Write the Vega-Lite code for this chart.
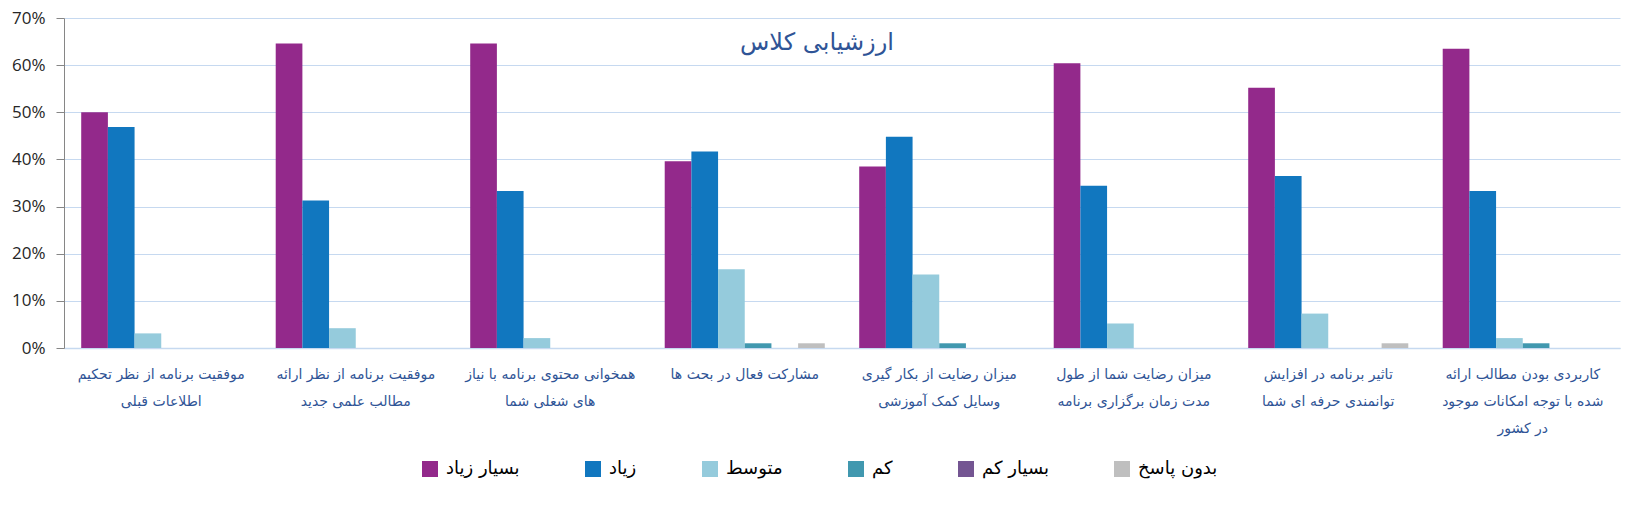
{
  "$schema": "https://vega.github.io/schema/vega-lite/v6.json",
  "width": 1556,
  "height": 330,
  "autosize": {"type": "none"},
  "padding": {"left": 64, "top": 18, "right": 27, "bottom": 164},
  "background": "white",
  "title": {
    "text": "ارزشیابی کلاس",
    "anchor": "middle",
    "frame": "group",
    "offset": -46,
    "dx": -25,
    "font": "DejaVu Sans",
    "fontSize": 24,
    "fontWeight": "normal",
    "color": "#2F5496"
  },
  "data": {
    "values": [
      {"criterion": "موفقیت برنامه از نظر تحکیم|اطلاعات قبلی", "response": "بسیار زیاد", "percent": 0.5},
      {"criterion": "موفقیت برنامه از نظر تحکیم|اطلاعات قبلی", "response": "زیاد", "percent": 0.469},
      {"criterion": "موفقیت برنامه از نظر تحکیم|اطلاعات قبلی", "response": "متوسط", "percent": 0.031},
      {"criterion": "موفقیت برنامه از نظر تحکیم|اطلاعات قبلی", "response": "کم", "percent": 0},
      {"criterion": "موفقیت برنامه از نظر تحکیم|اطلاعات قبلی", "response": "بسیار کم", "percent": 0},
      {"criterion": "موفقیت برنامه از نظر تحکیم|اطلاعات قبلی", "response": "بدون پاسخ", "percent": 0},
      {"criterion": "موفقیت برنامه از نظر ارائه|مطالب علمی جدید", "response": "بسیار زیاد", "percent": 0.646},
      {"criterion": "موفقیت برنامه از نظر ارائه|مطالب علمی جدید", "response": "زیاد", "percent": 0.313},
      {"criterion": "موفقیت برنامه از نظر ارائه|مطالب علمی جدید", "response": "متوسط", "percent": 0.042},
      {"criterion": "موفقیت برنامه از نظر ارائه|مطالب علمی جدید", "response": "کم", "percent": 0},
      {"criterion": "موفقیت برنامه از نظر ارائه|مطالب علمی جدید", "response": "بسیار کم", "percent": 0},
      {"criterion": "موفقیت برنامه از نظر ارائه|مطالب علمی جدید", "response": "بدون پاسخ", "percent": 0},
      {"criterion": "همخوانی محتوی برنامه با نیاز|های شغلی شما", "response": "بسیار زیاد", "percent": 0.646},
      {"criterion": "همخوانی محتوی برنامه با نیاز|های شغلی شما", "response": "زیاد", "percent": 0.333},
      {"criterion": "همخوانی محتوی برنامه با نیاز|های شغلی شما", "response": "متوسط", "percent": 0.021},
      {"criterion": "همخوانی محتوی برنامه با نیاز|های شغلی شما", "response": "کم", "percent": 0},
      {"criterion": "همخوانی محتوی برنامه با نیاز|های شغلی شما", "response": "بسیار کم", "percent": 0},
      {"criterion": "همخوانی محتوی برنامه با نیاز|های شغلی شما", "response": "بدون پاسخ", "percent": 0},
      {"criterion": "مشارکت فعال در بحث ها", "response": "بسیار زیاد", "percent": 0.396},
      {"criterion": "مشارکت فعال در بحث ها", "response": "زیاد", "percent": 0.417},
      {"criterion": "مشارکت فعال در بحث ها", "response": "متوسط", "percent": 0.167},
      {"criterion": "مشارکت فعال در بحث ها", "response": "کم", "percent": 0.01},
      {"criterion": "مشارکت فعال در بحث ها", "response": "بسیار کم", "percent": 0},
      {"criterion": "مشارکت فعال در بحث ها", "response": "بدون پاسخ", "percent": 0.01},
      {"criterion": "میزان رضایت از بکار گیری|وسایل کمک آموزشی", "response": "بسیار زیاد", "percent": 0.385},
      {"criterion": "میزان رضایت از بکار گیری|وسایل کمک آموزشی", "response": "زیاد", "percent": 0.448},
      {"criterion": "میزان رضایت از بکار گیری|وسایل کمک آموزشی", "response": "متوسط", "percent": 0.156},
      {"criterion": "میزان رضایت از بکار گیری|وسایل کمک آموزشی", "response": "کم", "percent": 0.01},
      {"criterion": "میزان رضایت از بکار گیری|وسایل کمک آموزشی", "response": "بسیار کم", "percent": 0},
      {"criterion": "میزان رضایت از بکار گیری|وسایل کمک آموزشی", "response": "بدون پاسخ", "percent": 0},
      {"criterion": "میزان رضایت شما از طول|مدت زمان برگزاری برنامه", "response": "بسیار زیاد", "percent": 0.604},
      {"criterion": "میزان رضایت شما از طول|مدت زمان برگزاری برنامه", "response": "زیاد", "percent": 0.344},
      {"criterion": "میزان رضایت شما از طول|مدت زمان برگزاری برنامه", "response": "متوسط", "percent": 0.052},
      {"criterion": "میزان رضایت شما از طول|مدت زمان برگزاری برنامه", "response": "کم", "percent": 0},
      {"criterion": "میزان رضایت شما از طول|مدت زمان برگزاری برنامه", "response": "بسیار کم", "percent": 0},
      {"criterion": "میزان رضایت شما از طول|مدت زمان برگزاری برنامه", "response": "بدون پاسخ", "percent": 0},
      {"criterion": "تاثیر برنامه در افزایش|توانمندی حرفه ای شما", "response": "بسیار زیاد", "percent": 0.552},
      {"criterion": "تاثیر برنامه در افزایش|توانمندی حرفه ای شما", "response": "زیاد", "percent": 0.365},
      {"criterion": "تاثیر برنامه در افزایش|توانمندی حرفه ای شما", "response": "متوسط", "percent": 0.073},
      {"criterion": "تاثیر برنامه در افزایش|توانمندی حرفه ای شما", "response": "کم", "percent": 0},
      {"criterion": "تاثیر برنامه در افزایش|توانمندی حرفه ای شما", "response": "بسیار کم", "percent": 0},
      {"criterion": "تاثیر برنامه در افزایش|توانمندی حرفه ای شما", "response": "بدون پاسخ", "percent": 0.01},
      {"criterion": "کاربردی بودن مطالب ارائه|شده با توجه امکانات موجود|در کشور", "response": "بسیار زیاد", "percent": 0.635},
      {"criterion": "کاربردی بودن مطالب ارائه|شده با توجه امکانات موجود|در کشور", "response": "زیاد", "percent": 0.333},
      {"criterion": "کاربردی بودن مطالب ارائه|شده با توجه امکانات موجود|در کشور", "response": "متوسط", "percent": 0.021},
      {"criterion": "کاربردی بودن مطالب ارائه|شده با توجه امکانات موجود|در کشور", "response": "کم", "percent": 0.01},
      {"criterion": "کاربردی بودن مطالب ارائه|شده با توجه امکانات موجود|در کشور", "response": "بسیار کم", "percent": 0},
      {"criterion": "کاربردی بودن مطالب ارائه|شده با توجه امکانات موجود|در کشور", "response": "بدون پاسخ", "percent": 0}
    ]
  },
  "mark": {"type": "bar"},
  "encoding": {
    "x": {
      "field": "criterion",
      "type": "nominal",
      "sort": null,
      "scale": {"paddingInner": 0.177, "paddingOuter": 0.0885},
      "axis": {
        "title": null,
        "labelAngle": 0,
        "labelExpr": "split(datum.label, '|')",
        "labelFont": "DejaVu Sans",
        "labelFontSize": 14,
        "labelColor": "#2F5496",
        "labelLineHeight": 27,
        "labelPadding": 19,
        "labelLimit": 0,
        "ticks": false,
        "domainColor": "#C6D9F0",
        "domainWidth": 1.5,
        "grid": false
      }
    },
    "xOffset": {
      "field": "response",
      "type": "nominal",
      "sort": ["بسیار زیاد", "زیاد", "متوسط", "کم", "بسیار کم", "بدون پاسخ"],
      "scale": {"paddingInner": 0, "paddingOuter": 0}
    },
    "y": {
      "field": "percent",
      "type": "quantitative",
      "scale": {"domain": [0, 0.7], "nice": false},
      "axis": {
        "title": null,
        "format": ".0%",
        "values": [0, 0.1, 0.2, 0.3, 0.4, 0.5, 0.6, 0.7],
        "labelFont": "Open Sans",
        "labelFontSize": 17,
        "labelColor": "#262626",
        "labelPadding": 11,
        "tickSize": 8,
        "tickColor": "#868686",
        "domainColor": "#868686",
        "gridColor": "#C6D9F0",
        "gridWidth": 1.2
      }
    },
    "color": {
      "field": "response",
      "type": "nominal",
      "scale": {
        "domain": ["بسیار زیاد", "زیاد", "متوسط", "کم", "بسیار کم", "بدون پاسخ"],
        "range": ["#93298B", "#1177BF", "#95CBDC", "#4198AF", "#745592", "#BFBFBF"]
      },
      "legend": {
        "title": null,
        "orient": "none",
        "direction": "horizontal",
        "legendX": 357,
        "legendY": 442,
        "symbolType": "square",
        "symbolSize": 256,
        "symbolStrokeWidth": 0,
        "labelFont": "DejaVu Sans",
        "labelFontSize": 18,
        "labelColor": "#000000",
        "labelOffset": 7,
        "columnPadding": 64,
        "padding": 0,
        "labelLimit": 0
      }
    }
  },
  "config": {
    "view": {"stroke": null},
    "axis": {"gridDash": []}
  }
}
